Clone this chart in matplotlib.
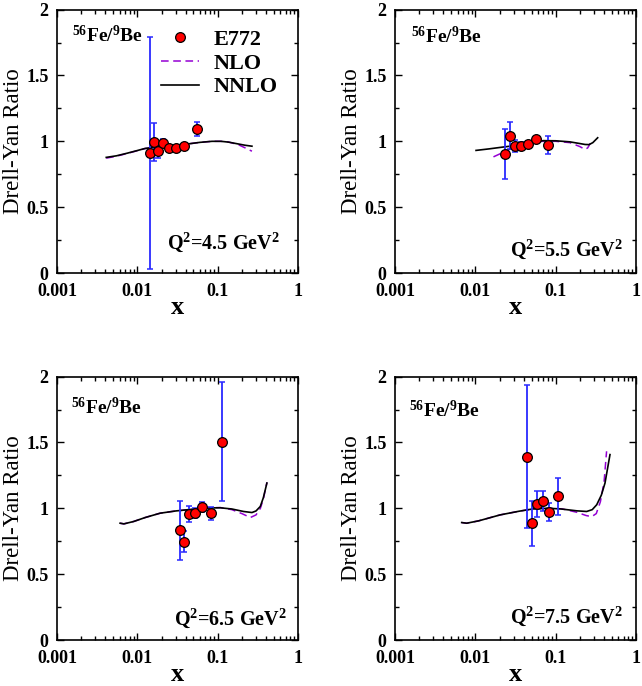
import numpy as np
import matplotlib
matplotlib.use("Agg")
import matplotlib.pyplot as plt
from matplotlib.ticker import LogLocator, MultipleLocator, FixedLocator, FixedFormatter

plt.rcParams['font.family'] = ['Liberation Serif', 'DejaVu Serif']
plt.rcParams['mathtext.fontset'] = 'custom'
plt.rcParams['mathtext.rm'] = 'Liberation Serif'
plt.rcParams['mathtext.bf'] = 'Liberation Serif:bold'

q2_vals = ["4.5", "5.5", "6.5", "7.5"]

# E772 data points (x, ratio, error)
x1 = [0.0144, 0.0160, 0.0182, 0.0210, 0.0249, 0.0304, 0.0386, 0.0551]
y1 = [0.913, 0.994, 0.925, 0.989, 0.951, 0.946, 0.961, 1.095]
e1 = [0.88, 0.147, 0.055, 0.03, 0.02, 0.02, 0.02, 0.055]

x2 = [0.0236, 0.0270, 0.0312, 0.0370, 0.0448, 0.0574, 0.0811]
y2 = [0.904, 1.044, 0.963, 0.966, 0.983, 1.014, 0.973]
e2 = [0.193, 0.10, 0.045, 0.03, 0.02, 0.02, 0.067]

x3 = [0.0335, 0.0379, 0.0438, 0.0525, 0.0636, 0.0815, 0.114]
y3 = [0.834, 0.745, 0.958, 0.963, 1.009, 0.963, 1.507]
e3 = [0.225, 0.08, 0.063, 0.04, 0.04, 0.05, 0.45]

x4 = [0.0444, 0.0503, 0.0580, 0.0689, 0.0834, 0.107]
y4 = [1.393, 0.887, 1.032, 1.057, 0.971, 1.090]
e4 = [0.54, 0.17, 0.097, 0.078, 0.067, 0.143]

# NNLO / NLO curves
nnlo1_x = [0.0041, 0.0055, 0.0075, 0.010, 0.0125, 0.018, 0.025, 0.0325, 0.045, 0.06, 0.085, 0.11, 0.136, 0.18, 0.22, 0.267]
nnlo1_y = [0.878, 0.89, 0.91, 0.93, 0.946, 0.957, 0.965, 0.971, 0.982, 0.992, 1.000, 1.000, 0.994, 0.98, 0.97, 0.963]
nlo1_x = [0.0041, 0.0055, 0.0075, 0.010, 0.0125, 0.018, 0.025, 0.0325, 0.045, 0.06, 0.085, 0.11, 0.136, 0.18, 0.22, 0.267]
nlo1_y = [0.872, 0.887, 0.908, 0.929, 0.945, 0.956, 0.964, 0.971, 0.982, 0.992, 1.000, 1.000, 0.995, 0.975, 0.95, 0.925]

nnlo2_x = [0.0102, 0.015, 0.02, 0.027, 0.035, 0.05, 0.07, 0.1, 0.15, 0.2, 0.232, 0.26, 0.29, 0.333]
nnlo2_y = [0.931, 0.943, 0.953, 0.963, 0.975, 0.995, 1.005, 1.004, 0.996, 0.983, 0.976, 0.975, 0.99, 1.027]
nlo2_x = [0.0168, 0.022, 0.03, 0.04, 0.05, 0.07, 0.1, 0.15, 0.2, 0.232, 0.25, 0.27]
nlo2_y = [0.882, 0.915, 0.955, 0.98, 0.995, 1.0, 1.0, 0.99, 0.96, 0.938, 0.95, 0.985]

nnlo3_x = [0.0061, 0.0068, 0.009, 0.0125, 0.0192, 0.03, 0.05, 0.08, 0.108, 0.15, 0.21, 0.267, 0.3, 0.339, 0.37, 0.41]
nnlo3_y = [0.887, 0.882, 0.9, 0.93, 0.963, 0.98, 0.994, 1.003, 1.004, 0.995, 0.976, 0.968, 0.98, 1.014, 1.08, 1.192]
nlo3_x = [0.0061, 0.0068, 0.009, 0.0125, 0.0192, 0.03, 0.05, 0.08, 0.108, 0.15, 0.2, 0.255, 0.3, 0.34, 0.37, 0.41]
nlo3_y = [0.887, 0.882, 0.9, 0.93, 0.963, 0.98, 0.994, 1.004, 1.006, 0.99, 0.96, 0.93, 0.95, 1.0, 1.07, 1.197]

nnlo4_x = [0.00676, 0.0078, 0.011, 0.0203, 0.035, 0.0527, 0.08, 0.113, 0.183, 0.243, 0.285, 0.324, 0.37, 0.411, 0.474]
nnlo4_y = [0.892, 0.887, 0.905, 0.95, 0.978, 0.996, 1.0, 0.996, 0.981, 0.976, 0.99, 1.027, 1.1, 1.192, 1.408]
nlo4_x = [0.00676, 0.0078, 0.011, 0.0203, 0.035, 0.0527, 0.08, 0.12, 0.183, 0.24, 0.281, 0.32, 0.36, 0.40, 0.43]
nlo4_y = [0.892, 0.887, 0.905, 0.95, 0.978, 0.996, 1.0, 0.996, 0.97, 0.945, 0.937, 0.96, 1.05, 1.2, 1.433]

data = [(x1, y1, e1), (x2, y2, e2), (x3, y3, e3), (x4, y4, e4)]
curves = [((nnlo1_x, nnlo1_y), (nlo1_x, nlo1_y)),
          ((nnlo2_x, nnlo2_y), (nlo2_x, nlo2_y)),
          ((nnlo3_x, nnlo3_y), (nlo3_x, nlo3_y)),
          ((nnlo4_x, nnlo4_y), (nlo4_x, nlo4_y))]

# layout (figure fractions)
lefts = [0.0888, 0.6153, 0.0888, 0.6153]
bottoms = [0.602, 0.602, 0.067, 0.067]
w, h = 0.3754, 0.384
febe_pos = [(0.062, 0.877), (0.066, 0.872), (0.058, 0.857), (0.059, 0.845)]
q_pos = [(0.925, 0.094), (0.945, 0.067), (0.953, 0.057), (0.945, 0.064)]

fig = plt.figure(figsize=(6.42, 6.86), dpi=100)

for i in range(4):
    ax = fig.add_axes([lefts[i], bottoms[i], w, h])
    xs, ys, es = data[i]
    (nx, ny), (lx, ly) = curves[i]
    l_nlo, = ax.plot(lx, ly, color='#9400d3', lw=1.1, dashes=(5, 3), label='NLO')
    l_nnlo, = ax.plot(nx, ny, color='black', lw=1.2, label='NNLO')
    ax.errorbar(xs, ys, yerr=es, fmt='none', ecolor='#2a2aff', elinewidth=1.3,
                capsize=2.5, capthick=1.1, zorder=3)
    pts, = ax.plot(xs, ys, 'o', ms=7, mfc='red', mec='black', mew=0.9,
                   zorder=4, label='E772', linestyle='none')

    ax.set_xscale('log')
    ax.set_xlim(0.001, 1)
    ax.set_ylim(0, 2)
    ax.xaxis.set_major_locator(FixedLocator([0.001, 0.01, 0.1, 1]))
    ax.xaxis.set_major_formatter(FixedFormatter(['0.001', '0.01', '0.1', '1']))
    ax.xaxis.set_minor_locator(LogLocator(base=10, subs=np.arange(2, 10), numticks=20))
    ax.yaxis.set_major_locator(MultipleLocator(0.5))
    ax.yaxis.set_minor_locator(MultipleLocator(0.25))
    ax.set_yticks([0, 0.5, 1, 1.5, 2])
    ax.set_yticklabels(['0', '0.5', '1', '1.5', '2'])
    ax.tick_params(which='both', direction='in', top=True, right=True, width=1.0)
    ax.tick_params(which='major', length=5, labelsize=13)
    ax.tick_params(axis='x', which='major', pad=7)
    ax.tick_params(axis='y', which='major', pad=6)
    ax.tick_params(which='minor', length=2.8)
    for lab in ax.get_xticklabels() + ax.get_yticklabels():
        lab.set_fontweight('bold')
    for sp in ax.spines.values():
        sp.set_linewidth(1.2)

    ax.set_ylabel('Drell-Yan Ratio', fontsize=16.5, labelpad=2)
    ax.set_xlabel('x', fontsize=19, fontweight='bold', labelpad=-3)

    fx, fy = febe_pos[i]
    ax.text(fx, fy, r'$\mathbf{^{56}Fe/^{9}Be}$', transform=ax.transAxes,
            fontsize=14, ha='left', va='baseline')
    qx, qy = q_pos[i]
    ax.text(qx, qy, r'$\mathbf{Q^{2}}$=' + q2_vals[i] + r' GeV$\mathbf{^{2}}$',
            transform=ax.transAxes, fontsize=14.5, fontweight='bold',
            ha='right', va='baseline')

    if i == 0:
        leg = ax.legend(handles=[pts, l_nlo, l_nnlo], loc='upper left',
                        bbox_to_anchor=(0.365, 0.985), frameon=False,
                        prop={'family': 'Liberation Serif', 'weight': 'bold', 'size': 16},
                        handlelength=1.75, handletextpad=0.65, labelspacing=0.15,
                        borderpad=0.2, numpoints=1)

fig.savefig('out.png', dpi=100)
